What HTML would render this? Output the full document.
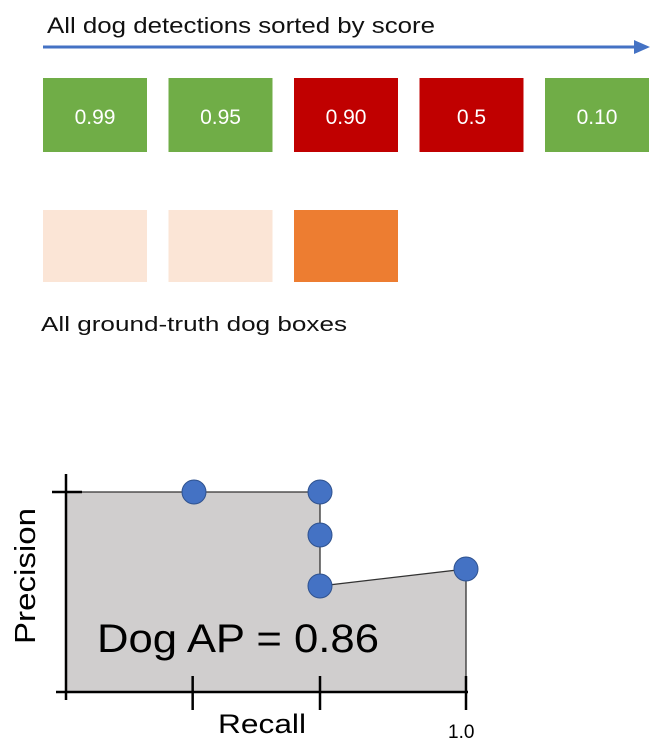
<!DOCTYPE html>
<html><head><meta charset="utf-8"><style>
html,body{margin:0;padding:0;background:#fff;}
svg{display:block;font-family:"Liberation Sans",sans-serif;}
</style></head><body>
<svg id="chart" width="661" height="745" viewBox="0 0 661 745">
  <text x="47" y="33" font-size="22" fill="#111" textLength="388" lengthAdjust="spacingAndGlyphs">All dog detections sorted by score</text>
  <line x1="43" y1="47" x2="636" y2="47" stroke="#4472c4" stroke-width="3"/>
  <polygon points="634,40 650,47 634,54" fill="#4472c4"/>
  <g id="dets"></g>
  <g id="gts"></g>
  <text x="41" y="331" font-size="20" fill="#111" textLength="306" lengthAdjust="spacingAndGlyphs">All ground-truth dog boxes</text>
  <g id="plot"></g>
</svg>
<script>
const scores = ["0.99","0.95","0.90","0.5","0.10"];
const correct = [true,true,false,false,true];
const gtMatched = [false,false,true];
const recall = [0.32,0.635,0.635,0.635,1.0];
const precision = [1.0,1.0,0.785,0.53,0.615];
const NS="http://www.w3.org/2000/svg";
function mk(tag,attrs,parent){const e=document.createElementNS(NS,tag);for(const k in attrs)e.setAttribute(k,attrs[k]);parent.appendChild(e);return e;}
const boxX=i=>43+i*125.5;
const dets=document.getElementById('dets');
scores.forEach((s,i)=>{
  const r=mk('rect',{x:boxX(i),y:78,width:104,height:74,fill:correct[i]?'#70ad47':'#c00000'},dets);
  
  
  const t=mk('text',{x:boxX(i)+52,y:124,'font-size':21,fill:'#fff','text-anchor':'middle'},dets);
  t.textContent=s;
  
  
});
const gts=document.getElementById('gts');
gtMatched.forEach((m,i)=>{
  const r=mk('rect',{x:boxX(i),y:210,width:104,height:72,fill:m?'#ed7d31':'#fbe5d6'},gts);
  
  
});
const plot=document.getElementById('plot');
const X0=66,X1=466,Y0=692,Y1=492;
const sx=v=>X0+v*(X1-X0), sy=v=>Y0-v*(Y0-Y1);
let pts=[[X0,sy(precision[0])]];
recall.forEach((r,i)=>pts.push([sx(r),sy(precision[i])]));
const area=[...pts,[sx(recall[recall.length-1]),Y0],[X0,Y0]];
const poly=mk('polygon',{points:area.map(p=>p.join(',')).join(' '),fill:'#d0cece',stroke:'none'},plot);


const pl=mk('polyline',{points:[...pts,[sx(recall[recall.length-1]),Y0]].map(p=>p.join(',')).join(' '),fill:'none',stroke:'#333','stroke-width':1.3},plot);


const ya=mk('line',{x1:X0,y1:474,x2:X0,y2:700,stroke:'#000','stroke-width':2.5},plot);


const xa=mk('line',{x1:56,y1:Y0,x2:X1+2,y2:Y0,stroke:'#000','stroke-width':2.5},plot);


const yt=mk('line',{x1:52,y1:Y1,x2:82,y2:Y1,stroke:'#000','stroke-width':2.5},plot);


[1/3*0.95,0.635,1.0].forEach(v=>{
  const t=mk('line',{x1:sx(v),y1:676,x2:sx(v),y2:710,stroke:'#000','stroke-width':2.5},plot);
  
  
});
recall.forEach((r,i)=>{
  const c=mk('circle',{cx:sx(r),cy:sy(precision[i]),r:12,fill:'#4472c4',stroke:'#2f528f','stroke-width':1},plot);
  
  
});
const ap=mk('text',{x:97,y:652,'font-size':40,fill:'#000',textLength:282,lengthAdjust:'spacingAndGlyphs'},plot);
ap.textContent='Dog AP = 0.86';


const xl=mk('text',{x:218,y:733,'font-size':27,fill:'#000',textLength:88,lengthAdjust:'spacingAndGlyphs'},plot);
xl.textContent='Recall';


const one=mk('text',{x:448,y:738,'font-size':19,fill:'#000'},plot);
one.textContent='1.0';


const yl=mk('text',{x:0,y:0,'font-size':29,fill:'#000',textLength:136,lengthAdjust:'spacingAndGlyphs',transform:'translate(35,644) rotate(-90)'},plot);
yl.textContent='Precision';


</script>
</body></html>
